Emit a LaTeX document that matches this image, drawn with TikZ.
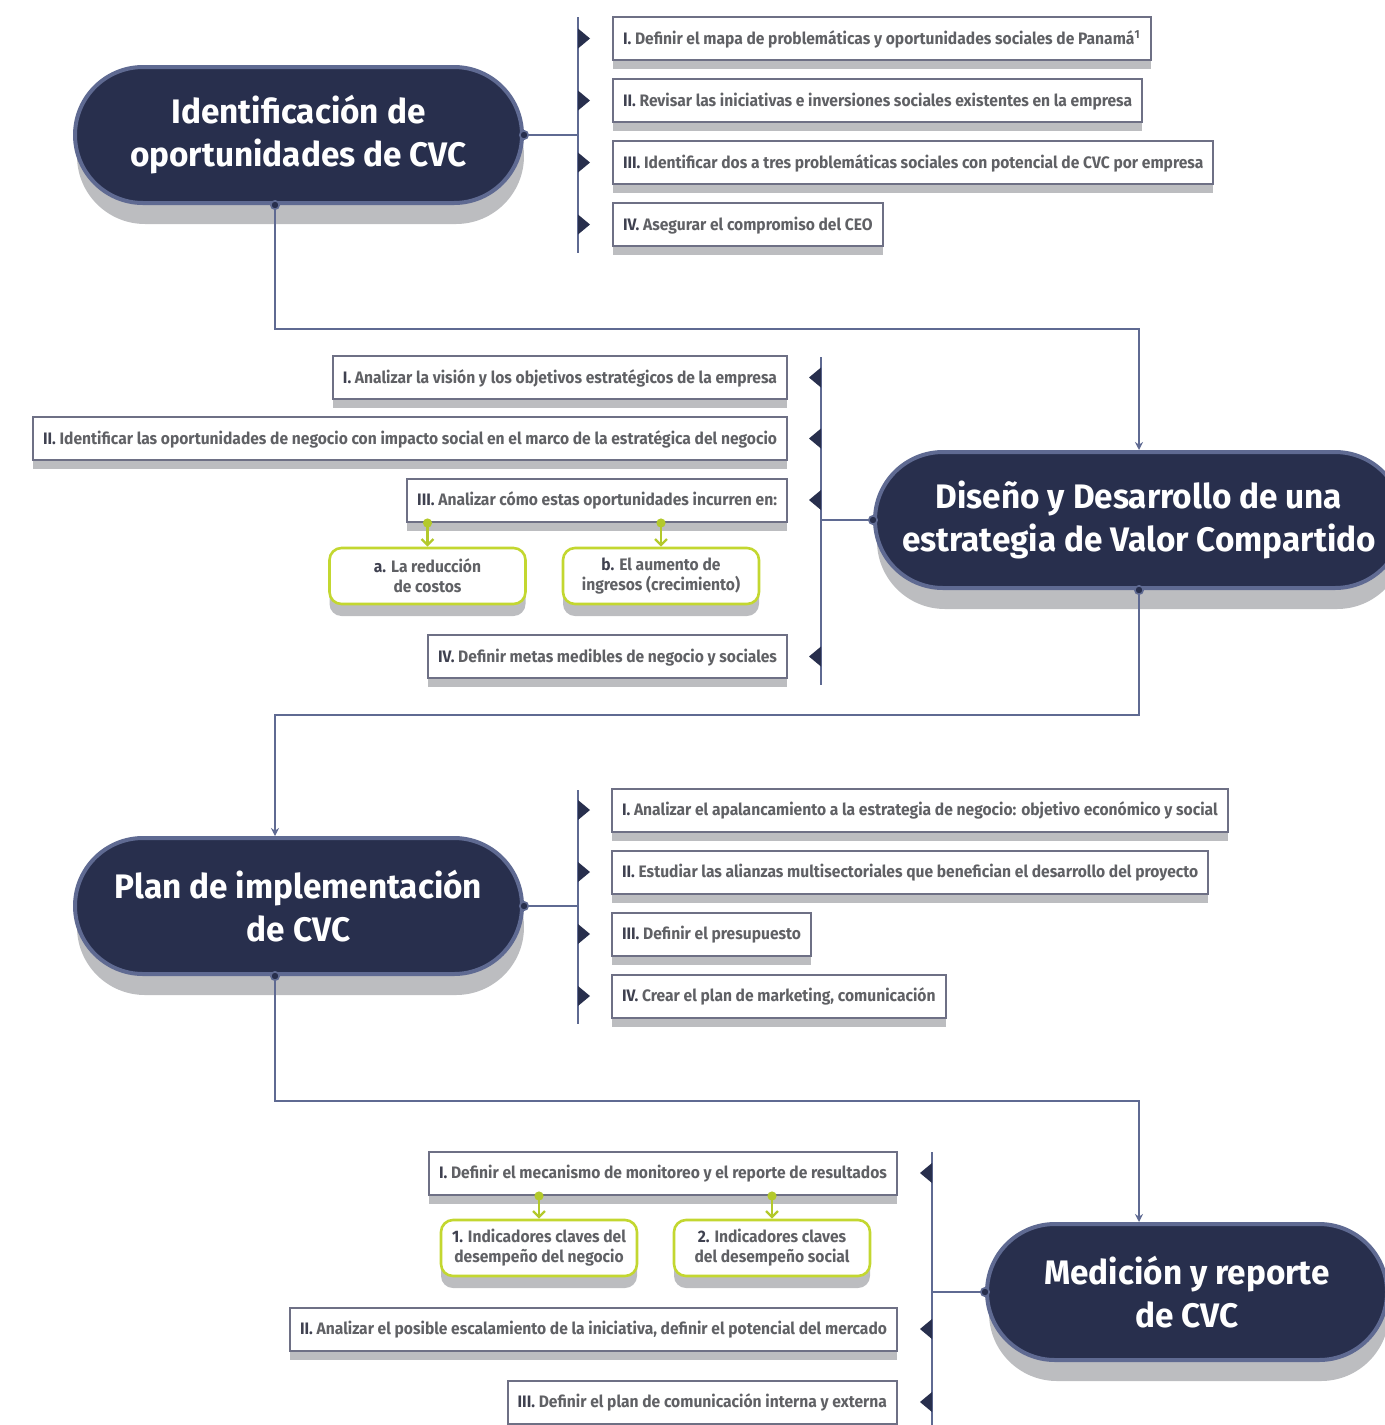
\documentclass[tikz,border=0pt]{standalone}
\usepackage{fontspec}
\setmainfont{Fira Sans}
\newfontfamily\itemfont[FakeStretch=0.94]{Fira Sans}
\newfontfamily\titlefont[FakeStretch=0.98]{Fira Sans}
\usetikzlibrary{positioning,arrows.meta,shadows}
\definecolor{navy}{HTML}{282F4D}
\definecolor{slate}{HTML}{5F6A92}
\definecolor{shadowgray}{HTML}{BCBDC0}
\definecolor{boxgray}{HTML}{6E7085}
\definecolor{itemgray}{HTML}{606165}
\definecolor{numgray}{HTML}{3F4150}
\definecolor{lime}{HTML}{C3D730}
\definecolor{limedark}{HTML}{B3C92B}
\newcommand{\romano}[1]{{\color{numgray}#1}}
\tikzset{
pill/.style={fill=navy, draw=slate, line width=2pt, rounded corners=34pt,
  minimum height=68pt, inner sep=0pt, align=center, text=white,
  font=\titlefont\fontsize{17}{21.5}\selectfont\bfseries,
  general shadow={fill=shadowgray, shadow xshift=1pt, shadow yshift=-10.5pt}},
itembox/.style={draw=boxgray, line width=1pt, fill=white, minimum height=21.5pt,
  inner xsep=5pt, inner ysep=0pt, text=itemgray, text height=6.2pt, text depth=0.3pt,
  font=\itemfont\fontsize{8.3}{9.8}\selectfont\bfseries,
  general shadow={fill=shadowgray, shadow yshift=-4.5pt}},
subbox/.style={draw=lime, line width=1.3pt, fill=white, rounded corners=6pt,
  minimum width=98pt, minimum height=28pt, inner sep=0pt, align=center, text=itemgray,
  font=\itemfont\fontsize{8.3}{10}\selectfont\bfseries,
  general shadow={fill=shadowgray, shadow yshift=-6pt}},
flow/.style={draw=slate, line width=1.4pt},
dotstart/.style={{Circle[length=5pt, fill=navy, line width=0.8pt]}-, shorten <=-2.5pt},
subflow/.style={draw=limedark, line width=1.2pt,
  {Circle[length=4.5pt]}-{Straight Barb[length=3pt, width=6pt]}, shorten <=-2pt},
}

\begin{document}
\begin{tikzpicture}[x=0.5pt, y=-0.5pt]
    \useasboundingbox (0,0) rectangle (1385,1425);

    % etapas
    \node[pill, minimum width=223.5pt] (p1) at (298.5,135) {Identificación de\\oportunidades de CVC};
    \node[pill, minimum width=264pt] (p2) at (1139,520) {Diseño y Desarrollo de una\\estrategia de Valor Compartido};
    \node[pill, minimum width=223.5pt] (p3) at (298.5,906) {Plan de implementación\\de CVC};
    \node[pill, minimum width=200pt] (p4) at (1187,1292) {Medición y reporte\\de CVC};

    % etapa 1
    \node[itembox, anchor=west] (i11) at (612,38.5) {\romano{I.} Definir el mapa de problemáticas y oportunidades sociales de Panamá\textsuperscript{1}};
    \node[itembox, anchor=west] (i12) at (612,100.5) {\romano{II.} Revisar las iniciativas e inversiones sociales existentes en la empresa};
    \node[itembox, anchor=west] (i13) at (612,162.5) {\romano{III.} Identificar dos a tres problemáticas sociales con potencial de CVC por empresa};
    \node[itembox, anchor=west] (i14) at (612,224.5) {\romano{IV.} Asegurar el compromiso del CEO};

    % etapa 2
    \node[itembox, anchor=east] (i21) at (788,377.5) {\romano{I.} Analizar la visión y los objetivos estratégicos de la empresa};
    \node[itembox, anchor=east] (i22) at (788,438.5) {\romano{II.} Identificar las oportunidades de negocio con impacto social en el marco de la estratégica del negocio};
    \node[itembox, anchor=east] (i23) at (788,500) {\romano{III.} Analizar cómo estas oportunidades incurren en:};
    \node[itembox, anchor=east] (i24) at (788,656.5) {\romano{IV.} Definir metas medibles de negocio y sociales};
    \node[subbox] (g1) at (427.5,576) {\romano{a.} La reducción\\de costos};
    \node[subbox] (g2) at (661,576) {\romano{b.} El aumento de\\ingresos (crecimiento)};

    % etapa 3
    \node[itembox, anchor=west] (i31) at (611,810) {\romano{I.} Analizar el apalancamiento a la estrategia de negocio: objetivo económico y social};
    \node[itembox, anchor=west] (i32) at (611,872) {\romano{II.} Estudiar las alianzas multisectoriales que benefician el desarrollo del proyecto};
    \node[itembox, anchor=west] (i33) at (611,934) {\romano{III.} Definir el presupuesto};
    \node[itembox, anchor=west] (i34) at (611,996) {\romano{IV.} Crear el plan de marketing, comunicación};

    % etapa 4
    \node[itembox, anchor=east] (i41) at (898,1173) {\romano{I.} Definir el mecanismo de monitoreo y el reporte de resultados};
    \node[itembox, anchor=east] (i42) at (898,1329) {\romano{II.} Analizar el posible escalamiento de la iniciativa, definir el potencial del mercado};
    \node[itembox, anchor=east] (i43) at (898,1402) {\romano{III.} Definir el plan de comunicación interna y externa};
    \node[subbox] (g3) at (539,1248) {\romano{1.} Indicadores claves del\\desempeño del negocio};
    \node[subbox] (g4) at (772,1248) {\romano{2.} Indicadores claves\\del desempeño social};

    % barras
    \coordinate (b1t) at (578,17);   \coordinate (b1b) at (578,253);
    \coordinate (b2t) at (821,357);  \coordinate (b2b) at (821,685);
    \coordinate (b3t) at (578,790);  \coordinate (b3b) at (578,1024);
    \coordinate (b4t) at (932,1152); \coordinate (b4b) at (932,1430);
    \draw[flow] (b1t) -- (b1b);
    \draw[flow] (b2t) -- (b2b);
    \draw[flow] (b3t) -- (b3b);
    \draw[flow] (b4t) -- (b4b);

    \foreach \n in {i11,i12,i13,i14}
        \fill[navy] (b1t |- \n.west) ++(0,-10) -- ++(12,10) -- ++(-12,10) -- cycle;
    \foreach \n in {i21,i22,i23,i24}
        \fill[navy] (b2t |- \n.east) ++(0,-10) -- ++(-12,10) -- ++(12,10) -- cycle;
    \foreach \n in {i31,i32,i33,i34}
        \fill[navy] (b3t |- \n.west) ++(0,-10) -- ++(12,10) -- ++(-12,10) -- cycle;
    \foreach \n in {i41,i42,i43}
        \fill[navy] (b4t |- \n.east) ++(0,-10) -- ++(-12,10) -- ++(12,10) -- cycle;

    \draw[flow, dotstart] (p1.east) -- (b1t |- p1.east);
    \draw[flow, dotstart] (p2.west) -- (b2t |- p2.west);
    \draw[flow, dotstart] (p3.east) -- (b3t |- p3.east);
    \draw[flow, dotstart] (p4.west) -- (b4t |- p4.west);

    % flujo entre etapas
    \draw[flow, {Circle[length=5pt, fill=navy, line width=0.8pt]}-{Stealth[length=4pt, width=4pt]}, shorten <=-2.5pt]
        (p1.south -| 275,0) -- ++(0,124) -| (p2.north);
    \draw[flow, {Circle[length=5pt, fill=navy, line width=0.8pt]}-{Stealth[length=4pt, width=4pt]}, shorten <=-2.5pt]
        (p2.south) -- ++(0,125) -| (p3.north -| 275,0);
    \draw[flow, {Circle[length=5pt, fill=navy, line width=0.8pt]}-{Stealth[length=4pt, width=4pt]}, shorten <=-2.5pt]
        (p3.south -| 275,0) -- ++(0,125) -| (p4.north -| 1139,0);

    % subniveles
    \draw[subflow] (i23.south -| g1.north) -- (g1.north);
    \draw[subflow] (i23.south -| g2.north) -- (g2.north);
    \draw[subflow] (i41.south -| g3.north) -- (g3.north);
    \draw[subflow] (i41.south -| g4.north) -- (g4.north);
\end{tikzpicture}
\end{document}
